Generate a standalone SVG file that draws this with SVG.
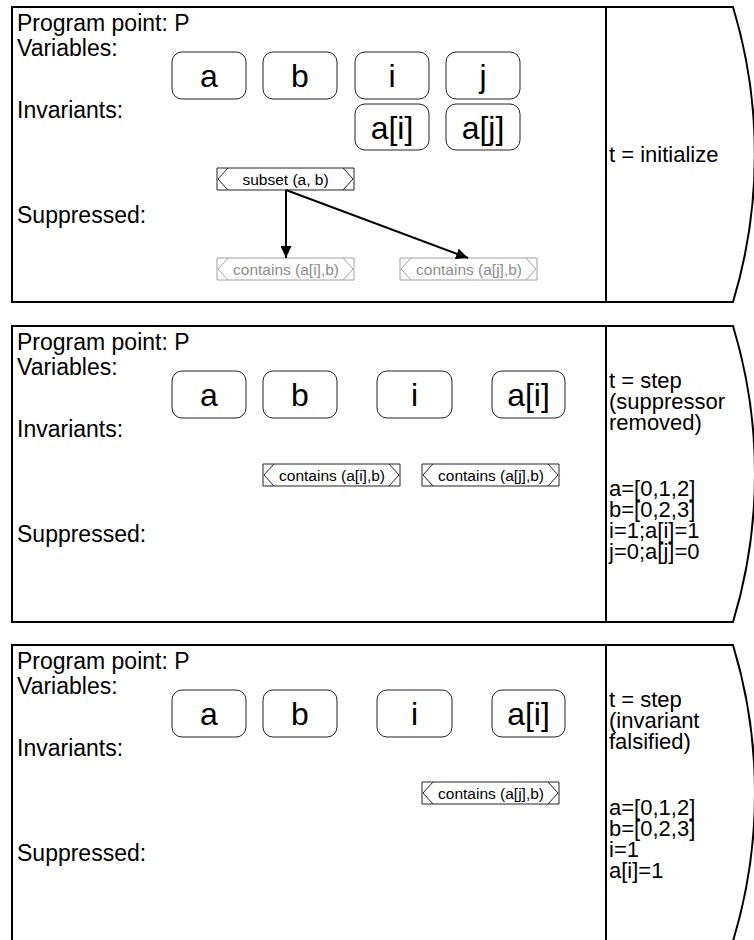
<svg xmlns="http://www.w3.org/2000/svg" width="754" height="940" viewBox="0 0 754 940">
  <style>
    .frame { fill: none; stroke: #000; stroke-width: 2; }
    .label { font-family: "Liberation Sans", Arial, sans-serif; font-size: 23px; fill: #000; }
    .state { font-family: "Liberation Sans", Arial, sans-serif; font-size: 22px; fill: #000; }
    .var rect { fill: #fff; stroke: #222; stroke-width: 1; }
    .var text { font-family: "Liberation Sans", Arial, sans-serif; font-size: 32px; fill: #000; text-anchor: middle; }
    .inv use { fill: #fff; stroke: #222; stroke-width: 1; }
    .inv text { font-family: "Liberation Sans", Arial, sans-serif; font-size: 15.5px; fill: #000; text-anchor: middle; }
    .inv.supp use { stroke: #a0a0a0; }
    .inv.supp text { fill: #8c8c8c; }
    .edge { fill: none; stroke: #000; stroke-width: 2; }
  </style>
  <defs>
    <marker id="arrow" viewBox="0 0 12 11" refX="12" refY="5.5" markerWidth="12" markerHeight="11" orient="auto" markerUnits="userSpaceOnUse">
      <path d="M0,0 L12,5.5 L0,11 Z" fill="#000"/>
    </marker>
    <!-- invariant box: rectangle with chevrons on both ends, 137 x 22 -->
    <path id="chev" d="M0,0 H137 V22 H0 Z M11,0 L1,11 L11,22 M126,0 L136,11 L126,22"/>
  </defs>

  <!-- ===== Panel 1: t = initialize ===== -->
  <g id="panel1">
    <path class="frame" d="M12,7 H733 A509,509 0 0 1 733,302 H12 Z"/>
    <line class="frame" x1="606" y1="7" x2="606" y2="302"/>
    <text class="label" x="17" y="31">Program point: P</text>
    <text class="label" x="17" y="56">Variables:</text>
    <text class="label" x="17" y="118">Invariants:</text>
    <text class="label" x="17" y="223">Suppressed:</text>
    <text class="state" x="609" y="162">t = initialize</text>
  </g>
  <g id="p1-a" class="var"><rect x="172" y="52" width="74" height="47" rx="10"/><text x="209" y="87">a</text></g>
  <g id="p1-b" class="var"><rect x="263" y="52" width="74" height="47" rx="10"/><text x="300" y="87">b</text></g>
  <g id="p1-i" class="var"><rect x="355" y="52" width="74" height="47" rx="10"/><text x="392" y="87">i</text></g>
  <g id="p1-j" class="var"><rect x="446" y="52" width="74" height="47" rx="10"/><text x="483" y="87">j</text></g>
  <g id="p1-ai" class="var"><rect x="355" y="104" width="74" height="46" rx="10"/><text x="392" y="139">a[i]</text></g>
  <g id="p1-aj" class="var"><rect x="446" y="104" width="74" height="46" rx="10"/><text x="483" y="139">a[j]</text></g>
  <g id="p1-subset" class="inv" transform="translate(217,168)"><use href="#chev"/><text x="68.5" y="17">subset (a, b)</text></g>
  <g id="p1-contains-ai" class="inv supp" transform="translate(217,258)"><use href="#chev"/><text x="69" y="17">contains (a[i],b)</text></g>
  <g id="p1-contains-aj" class="inv supp" transform="translate(400,258)"><use href="#chev"/><text x="69" y="17">contains (a[j],b)</text></g>
  <g id="connectors">
    <line class="edge" x1="286" y1="190" x2="286" y2="258" marker-end="url(#arrow)"/>
    <line class="edge" x1="286" y1="190" x2="468" y2="258" marker-end="url(#arrow)"/>
  </g>

  <!-- ===== Panel 2: suppressor removed ===== -->
  <g id="panel2">
    <path class="frame" d="M12,326 H733 A509,509 0 0 1 733,622 H12 Z"/>
    <line class="frame" x1="606" y1="326" x2="606" y2="622"/>
    <text class="label" x="17" y="350">Program point: P</text>
    <text class="label" x="17" y="375">Variables:</text>
    <text class="label" x="17" y="437">Invariants:</text>
    <text class="label" x="17" y="542">Suppressed:</text>
    <text class="state" x="609" y="388">t = step</text>
    <text class="state" x="609" y="409">(suppressor</text>
    <text class="state" x="609" y="430">removed)</text>
    <text class="state" x="609" y="496">a=[0,1,2]</text>
    <text class="state" x="609" y="517">b=[0,2,3]</text>
    <text class="state" x="609" y="538">i=1;a[i]=1</text>
    <text class="state" x="609" y="559">j=0;a[j]=0</text>
  </g>
  <g id="p2-a" class="var"><rect x="172" y="371" width="74" height="47" rx="10"/><text x="209" y="406">a</text></g>
  <g id="p2-b" class="var"><rect x="263" y="371" width="74" height="47" rx="10"/><text x="300" y="406">b</text></g>
  <g id="p2-i" class="var"><rect x="377" y="371" width="75" height="47" rx="10"/><text x="414.5" y="406">i</text></g>
  <g id="p2-ai" class="var"><rect x="492" y="371" width="73" height="47" rx="10"/><text x="528.5" y="406">a[i]</text></g>
  <g id="p2-contains-ai" class="inv" transform="translate(263,464)"><use href="#chev"/><text x="69" y="17">contains (a[i],b)</text></g>
  <g id="p2-contains-aj" class="inv" transform="translate(422,464)"><use href="#chev"/><text x="69" y="17">contains (a[j],b)</text></g>

  <!-- ===== Panel 3: invariant falsified ===== -->
  <g id="panel3">
    <path class="frame" d="M12,645 H733 A509,509 0 0 1 733,941 H12 Z"/>
    <line class="frame" x1="606" y1="645" x2="606" y2="941"/>
    <text class="label" x="17" y="669">Program point: P</text>
    <text class="label" x="17" y="694">Variables:</text>
    <text class="label" x="17" y="756">Invariants:</text>
    <text class="label" x="17" y="861">Suppressed:</text>
    <text class="state" x="609" y="707">t = step</text>
    <text class="state" x="609" y="728">(invariant</text>
    <text class="state" x="609" y="749">falsified)</text>
    <text class="state" x="609" y="815">a=[0,1,2]</text>
    <text class="state" x="609" y="836">b=[0,2,3]</text>
    <text class="state" x="609" y="857">i=1</text>
    <text class="state" x="609" y="878">a[i]=1</text>
  </g>
  <g id="p3-a" class="var"><rect x="172" y="690" width="74" height="47" rx="10"/><text x="209" y="725">a</text></g>
  <g id="p3-b" class="var"><rect x="263" y="690" width="74" height="47" rx="10"/><text x="300" y="725">b</text></g>
  <g id="p3-i" class="var"><rect x="377" y="690" width="75" height="47" rx="10"/><text x="414.5" y="725">i</text></g>
  <g id="p3-ai" class="var"><rect x="492" y="690" width="73" height="47" rx="10"/><text x="528.5" y="725">a[i]</text></g>
  <g id="p3-contains-aj" class="inv" transform="translate(422,782)"><use href="#chev"/><text x="69" y="17">contains (a[j],b)</text></g>
</svg>
